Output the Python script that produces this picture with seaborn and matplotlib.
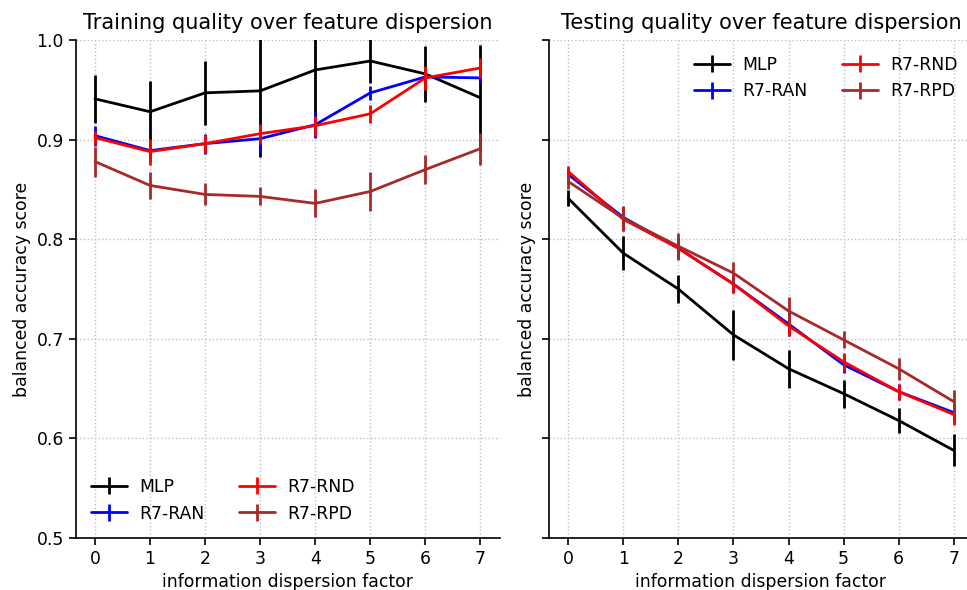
import numpy as np
import pandas as pd
import matplotlib
matplotlib.use("Agg")
import matplotlib.pyplot as plt
import seaborn as sns

factors = [0, 1, 2, 3, 4, 5, 6, 7]
models = ["MLP", "R7-RAN", "R7-RND", "R7-RPD"]
colors = ["black", "blue", "red", "brown"]

train_mlp = [0.941, 0.928, 0.947, 0.949, 0.970, 0.979, 0.966, 0.942]
train_mlp_err = [0.024, 0.031, 0.032, 0.066, 0.060, 0.022, 0.028, 0.053]
train_ran = [0.904, 0.889, 0.896, 0.901, 0.915, 0.947, 0.963, 0.962]
train_ran_err = [0.010, 0.010, 0.010, 0.013, 0.013, 0.007, 0.005, 0.005]
train_rnd = [0.902, 0.888, 0.896, 0.906, 0.914, 0.926, 0.962, 0.972]
train_rnd_err = [0.007, 0.013, 0.009, 0.010, 0.010, 0.009, 0.012, 0.010]
train_rpd = [0.878, 0.854, 0.845, 0.843, 0.836, 0.848, 0.870, 0.891]
train_rpd_err = [0.015, 0.014, 0.011, 0.009, 0.014, 0.020, 0.015, 0.016]

test_mlp = [0.841, 0.786, 0.750, 0.704, 0.670, 0.645, 0.618, 0.588]
test_mlp_err = [0.008, 0.017, 0.014, 0.025, 0.019, 0.014, 0.013, 0.016]
test_ran = [0.865, 0.822, 0.791, 0.755, 0.715, 0.674, 0.647, 0.626]
test_ran_err = [0.006, 0.010, 0.010, 0.009, 0.012, 0.008, 0.008, 0.008]
test_rnd = [0.868, 0.820, 0.791, 0.755, 0.713, 0.677, 0.647, 0.624]
test_rnd_err = [0.006, 0.012, 0.010, 0.009, 0.010, 0.009, 0.008, 0.011]
test_rpd = [0.858, 0.821, 0.793, 0.766, 0.728, 0.699, 0.670, 0.637]
test_rpd_err = [0.008, 0.0125, 0.0135, 0.011, 0.014, 0.0085, 0.011, 0.012]

train_vals = [train_mlp, train_ran, train_rnd, train_rpd]
train_errs = [train_mlp_err, train_ran_err, train_rnd_err, train_rpd_err]
test_vals = [test_mlp, test_ran, test_rnd, test_rpd]
test_errs = [test_mlp_err, test_ran_err, test_rnd_err, test_rpd_err]

sns.set_style("ticks")
plt.rcParams['font.family'] = ['DejaVu Sans']
plt.rcParams['text.color'] = 'black'
plt.rcParams['axes.labelcolor'] = 'black'

fig = plt.figure(figsize=(9.67, 5.9), dpi=100)
ax1 = fig.add_axes([0.0783, 0.0881, 0.4385, 0.844])
ax2 = fig.add_axes([0.5677, 0.0881, 0.4385, 0.844], sharey=ax1)

FS = 12.4


def draw(ax, vals, errs, title, legend_loc):
    handles = []
    for name, col, v, e in zip(models, colors, vals, errs):
        df = pd.DataFrame({"x": factors, "y": v})
        sns.lineplot(data=df, x="x", y="y", color=col, lw=2, ax=ax, legend=False)
        line = ax.lines[-1]
        cont = ax.errorbar(factors, v, yerr=e, fmt="none", ecolor=col, elinewidth=2, capsize=0)
        handles.append((line, cont))
    ax.set_xlim(-0.35, 7.35)
    ax.set_ylim(0.5, 1.0)
    ax.set_xticks(factors)
    ax.set_yticks([0.5, 0.6, 0.7, 0.8, 0.9, 1.0])
    ax.grid(True, linestyle=":", color="#c0c0c0", lw=1)
    ax.set_title(title, fontsize=15, color="black", pad=8)
    ax.set_xlabel("information dispersion factor", fontsize=FS)
    ax.set_ylabel("balanced accuracy score", fontsize=FS)
    ax.tick_params(labelsize=FS, length=5, width=1.2, colors="black")
    for s in ["left", "bottom"]:
        ax.spines[s].set_linewidth(1.2)
        ax.spines[s].set_color("black")
    sns.despine(ax=ax)
    ax.legend(handles, models, ncol=2, frameon=False, loc=legend_loc, fontsize=FS,
              handlelength=2.1, handletextpad=0.7, columnspacing=2.0)


draw(ax1, train_vals, train_errs, "Training quality over feature dispersion", "lower left")
draw(ax2, test_vals, test_errs, "Testing quality over feature dispersion", "upper right")
ax2.tick_params(labelleft=False)
ax1.yaxis.set_major_formatter(matplotlib.ticker.FormatStrFormatter('%.1f'))

fig.savefig("out.png", dpi=100)
